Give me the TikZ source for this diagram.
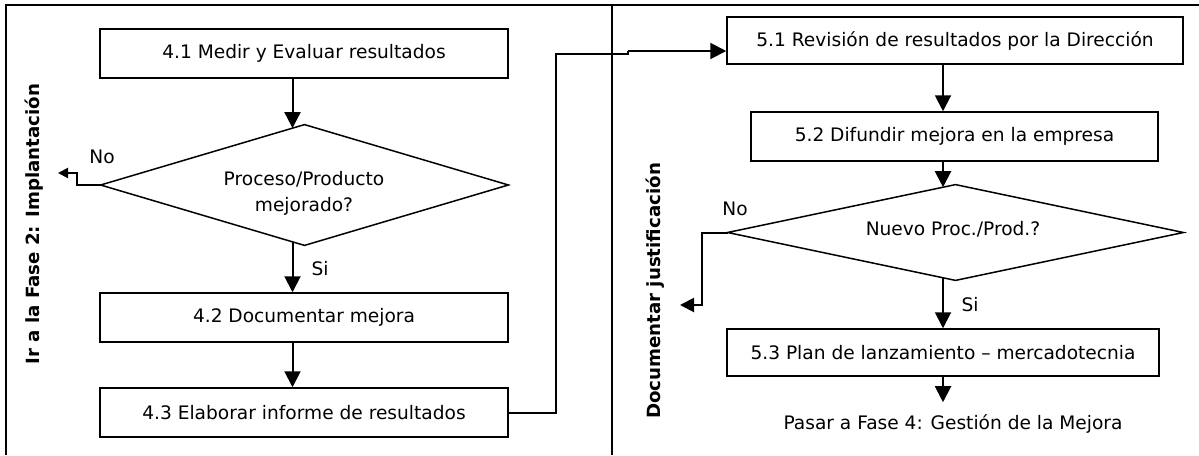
\documentclass[tikz,border=0pt]{standalone}
\usepackage{fontspec}
\setmainfont{DejaVu Sans}
\usetikzlibrary{arrows.meta,calc}
\begin{document}
\begin{tikzpicture}[x=0.5pt,y=-0.5pt,
  every node/.style={font=\fontsize{9.3pt}{10pt}\selectfont, inner sep=0pt},
  box/.style={draw, line width=0.75pt, minimum height=24.5pt},
  dec/.style={align=center},
  decline/.style={line width=0.75pt},
  frame/.style={line width=1pt},
  conn/.style={line width=1pt},
  arr/.style={line width=1pt, -{Triangle[length=8pt,width=8pt]}},
  arrsmall/.style={line width=1pt, -{Triangle[length=5pt,width=5pt]}},
  arrmid/.style={line width=1pt, -{Triangle[length=7pt,width=7pt]}},
  lab/.style={font=\bfseries\fontsize{9.1pt}{10pt}\selectfont, rotate=90}
]
\useasboundingbox[fill=white] (0,0) rectangle (1199,455);
% frame
\draw[frame] (6,455) -- (6,5) -- (1199,5);
\draw[frame] (612,5) -- (612,455);
% side labels
\node[lab] (lab1) at (34,224) {Ir a la Fase 2: Implantación};
\node[lab] (lab2) at (655,291) {Documentar justificación};
% left column
\node[box, minimum width=204pt] (b41) at (304,53.5) {4.1 Medir y Evaluar resultados};
\node[dec, minimum width=203.5pt, minimum height=60pt] (d1) at (304.5,185) {};
\draw[decline] (d1.north) -- (d1.east) -- (d1.south) -- (d1.west) -- cycle;
\node[align=center] (t1) at (304,193) {Proceso/Producto\\[3pt]mejorado?};
\node[box, minimum width=204pt] (b42) at (304,317.5) {4.2 Documentar mejora};
\node[box, minimum width=204pt] (b43) at (304,412.5) {4.3 Elaborar informe de resultados};
\node (no1) at (102,157) {No};
\node (si1) at (320,269) {Si};
\coordinate (axl) at (292.5,0);
\coordinate (n1) at (58,173);
\draw[arr] (axl |- b41.south) -- ($(axl |- d1.north)+(0,3.5)$);
\draw[arr] ($(axl |- d1.south)+(0,-3.5)$) -- (axl |- b42.north);
\draw[arr] (axl |- b42.south) -- (axl |- b43.north);
\draw[arrsmall] (d1.west) -- ++(-24,0) |- (n1);
% connector to right column
\coordinate (j1) at (556,54);
\coordinate (j2) at (628,54);
\coordinate (j3) at (628,51);
\draw[conn] (b43.east) -| (j1) -- (j2) -- (j3);
% right column
\node[box, minimum width=228pt, minimum height=23.5pt] (b51) at (955,40.5) {5.1 Revisión de resultados por la Dirección};
\node[box, minimum width=203.5pt] (b52) at (954.5,136.5) {5.2 Difundir mejora en la empresa};
\node[dec, minimum width=227.5pt, minimum height=47.5pt] (d2) at (955.5,232.5) {};
\draw[decline] (d2.north) -- (d2.east) -- (d2.south) -- (d2.west) -- cycle;
\node (t2) at (953,229) {Nuevo Proc./Prod.?};
\node[box, minimum width=216pt, minimum height=23.5pt] (b53) at (943,352.5) {5.3 Plan de lanzamiento – mercadotecnia};
\node (pasar) at (953,424) {Pasar a Fase 4: Gestión de la Mejora};
\node (no2) at (735,209) {No};
\node (si2) at (970,305) {Si};
\draw[arr] (j3) -- (j3 -| b51.west);
\coordinate (axr) at (943,0);
\coordinate (n2) at (680,305);
\draw[arr] (axr |- b51.south) -- (axr |- b52.north);
\draw[arr] (axr |- b52.south) -- ($(axr |- d2.north)+(0,2.6)$);
\draw[arr] ($(axr |- d2.south)+(0,-2.6)$) -- (axr |- b53.north);
\draw[arr] (axr |- b53.south) -- ($(axr |- pasar.north)+(0,-12)$);
\draw[arrmid] (d2.west) -- ++(-26,0) |- (n2);
\end{tikzpicture}
\end{document}
